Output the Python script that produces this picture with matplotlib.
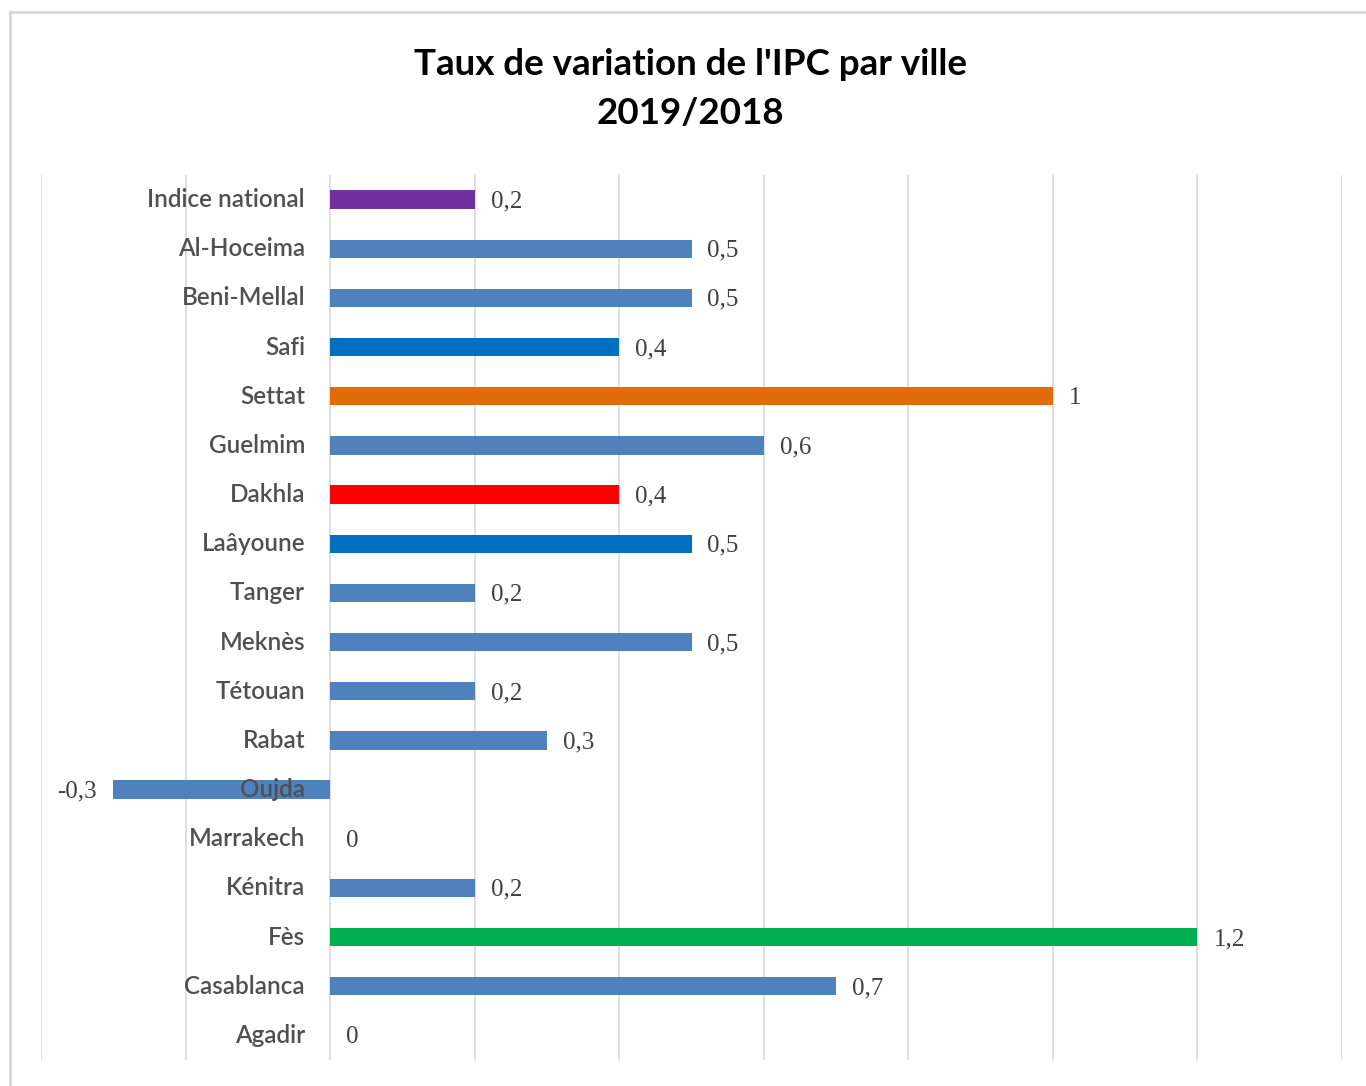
import matplotlib
matplotlib.use("Agg")
import matplotlib.pyplot as plt
from matplotlib.lines import Line2D
import matplotlib.transforms as mtransforms

# Data (bottom to top)
cities = ["Agadir", "Casablanca", "Fès", "Kénitra", "Marrakech", "Oujda", "Rabat",
          "Tétouan", "Meknès", "Tanger", "Laâyoune", "Dakhla", "Guelmim", "Settat",
          "Safi", "Beni-Mellal", "Al-Hoceima", "Indice national"]
values = [0, 0.7, 1.2, 0.2, 0, -0.3, 0.3, 0.2, 0.5, 0.2, 0.5, 0.4, 0.6, 1, 0.4, 0.5, 0.5, 0.2]
colors = ["#4F81BD", "#4F81BD", "#00B050", "#4F81BD", "#4F81BD", "#4F81BD", "#4F81BD",
          "#4F81BD", "#4F81BD", "#4F81BD", "#0070C0", "#FF0000", "#4F81BD", "#E36C09",
          "#0070C0", "#4F81BD", "#4F81BD", "#7030A0"]
xticks = [-0.4, -0.2, 0, 0.2, 0.4, 0.6, 0.8, 1.0, 1.2, 1.4]
title_text = "Taux de variation de l'IPC par ville\n2019/2018"

W, H = 1366, 1086
fig = plt.figure(figsize=(W / 100, H / 100), dpi=100)
fig.patch.set_facecolor("white")

# outer chart border (cropped at right and bottom)
fig.add_artist(Line2D([10 / W, 10 / W], [0, 1 - 12 / H], transform=fig.transFigure,
                      color="#D9D9D9", lw=2))
fig.add_artist(Line2D([10 / W, 1], [1 - 12 / H, 1 - 12 / H], transform=fig.transFigure,
                      color="#D9D9D9", lw=2))

ax = fig.add_axes([41 / W, 1 - 1060 / H, (1342 - 41) / W, (1060 - 175) / H])
y = list(range(len(cities)))
ax.barh(y, values, height=0.37, color=colors, zorder=2)
ax.set_xlim(-0.4, 1.4)
ax.set_ylim(-0.5, len(cities) - 0.5)
ax.set_xticks(xticks)
ax.grid(axis="x", color="#D9D9D9", lw=1.2, zorder=0)
ax.set_yticks([])
ax.tick_params(axis="x", length=0, labelbottom=False)
for s in ax.spines.values():
    s.set_visible(False)

label_font = ["Lato", "DejaVu Sans"]
for i, (c, v) in enumerate(zip(cities, values)):
    tr = mtransforms.offset_copy(ax.transData, fig=fig, x=-25, y=0, units="dots")
    ax.text(0, i, c, transform=tr, ha="right", va="center", fontsize=17.5,
            color="#505050", family=label_font, fontweight="semibold", zorder=3)
    txt = ("%g" % v).replace(".", ",")
    if v < 0:
        tr2 = mtransforms.offset_copy(ax.transData, fig=fig, x=-17, y=-2, units="dots")
        ax.text(v, i, txt, transform=tr2, ha="right", va="center", fontsize=18,
                color="#404040", family=["Liberation Serif"])
    else:
        tr2 = mtransforms.offset_copy(ax.transData, fig=fig, x=16, y=-2, units="dots")
        ax.text(v, i, txt, transform=tr2, ha="left", va="center", fontsize=18,
                color="#404040", family=["Liberation Serif"])

fig.text(690 / W, 1 - 89 / H, title_text, ha="center", va="center", fontsize=26.5,
         fontweight="bold", family=label_font, color="black", linespacing=1.62)

fig.savefig("out.png", dpi=100, facecolor="white")
